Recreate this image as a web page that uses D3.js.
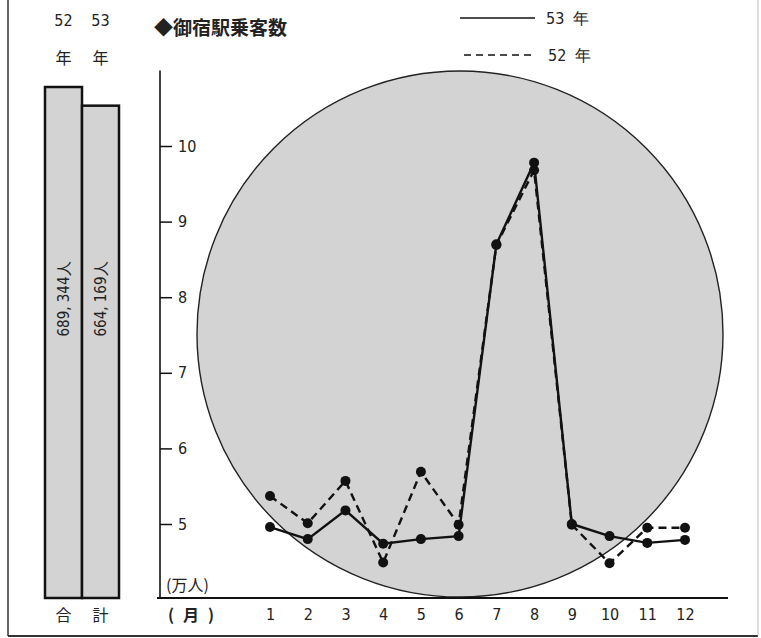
<!DOCTYPE html>
<html>
<head>
<meta charset="utf-8">
<script src="https://cdn.jsdelivr.net/npm/d3@7"></script>
<style>
  html, body { margin: 0; padding: 0; background: #fff; }
  svg { display: block; }
  text { font-family: "DejaVu Sans Condensed", "DejaVu Sans", sans-serif; fill: #222; }
  .jp { font-family: "Noto Sans CJK JP", sans-serif; }
</style>
</head>
<body>
<svg id="chart" width="761" height="638"></svg>
<script>
// ---- data ----
const months = [1, 2, 3, 4, 5, 6, 7, 8, 9, 10, 11, 12];
const values53 = [4.96, 4.80, 5.18, 4.74, 4.80, 4.84, 8.70, 9.78, 5.00, 4.84, 4.75, 4.79]; // 万人
const values52 = [5.37, 5.01, 5.57, 4.49, 5.69, 4.99, 8.69, 9.68, 4.99, 4.48, 4.95, 4.95]; // 万人
const yTicks = [5, 6, 7, 8, 9, 10];
const totalYears = ["52", "53"];
const totals = [689344, 664169];
const totalLabels = ["689, 344人", "664, 169人"];
const seriesNames = ["53 年", "52 年"];
const title = "◆御宿駅乗客数";

// ---- layout ----
const svg = d3.select("#chart");
const baseY = 598;

// frame
svg.append("line").attr("x1", 8).attr("y1", 0).attr("x2", 8).attr("y2", 636).attr("stroke", "#333").attr("stroke-width", 1.5);
svg.append("line").attr("x1", 8).attr("y1", 636).attr("x2", 758).attr("y2", 636).attr("stroke", "#333").attr("stroke-width", 2);
svg.append("line").attr("x1", 758).attr("y1", 0).attr("x2", 758).attr("y2", 636).attr("stroke", "#bbb").attr("stroke-width", 1);

// scales
const x = d3.scalePoint().domain(months).range([270, 685]);
const y = d3.scaleLinear().domain([5, 10]).range([524, 146]);

// big background circle
svg.append("circle")
  .attr("cx", 460).attr("cy", 334).attr("r", 263)
  .attr("fill", "#d3d3d3").attr("stroke", "#222").attr("stroke-width", 1.4);

// ---- totals bar chart ----
const xb = d3.scaleBand().domain(totalYears).range([45, 119]).padding(0);
const yb = d3.scaleLinear().domain([0, totals[0]]).range([baseY, 87]);

svg.selectAll("rect.total").data(totals).join("rect")
  .attr("class", "total")
  .attr("x", (d, i) => xb(totalYears[i]))
  .attr("y", d => yb(d))
  .attr("width", xb.bandwidth())
  .attr("height", d => baseY - yb(d))
  .attr("fill", "#d3d3d3").attr("stroke", "#111").attr("stroke-width", 2.5);

svg.selectAll("text.tlabel").data(totalLabels).join("text")
  .attr("class", "tlabel")
  .attr("transform", (d, i) => `translate(${xb(totalYears[i]) + xb.bandwidth() / 2 + 5},299) rotate(-90)`)
  .attr("text-anchor", "middle")
  .attr("font-size", 15)
  .text(d => d);

svg.selectAll("text.yr").data(totalYears).join("text")
  .attr("class", "yr")
  .attr("x", d => xb(d) + xb.bandwidth() / 2)
  .attr("y", 26).attr("text-anchor", "middle").attr("font-size", 16)
  .text(d => d);
svg.selectAll("text.nen").data(totalYears).join("text")
  .attr("class", "nen jp")
  .attr("x", d => xb(d) + xb.bandwidth() / 2)
  .attr("y", 64).attr("text-anchor", "middle").attr("font-size", 16)
  .text("年");
svg.selectAll("text.goukei").data(["合", "計"]).join("text")
  .attr("class", "goukei jp")
  .attr("x", (d, i) => xb(totalYears[i]) + xb.bandwidth() / 2)
  .attr("y", 621).attr("text-anchor", "middle").attr("font-size", 16)
  .text(d => d);

// ---- title ----
svg.append("text").attr("class", "jp")
  .attr("x", 154).attr("y", 35)
  .attr("font-size", 19).attr("font-weight", "bold").attr("fill", "#111")
  .text(title);

// ---- legend ----
svg.append("line").attr("x1", 460).attr("x2", 535).attr("y1", 18).attr("y2", 18)
  .attr("stroke", "#111").attr("stroke-width", 1.5);
svg.append("text").attr("x", 546).attr("y", 24).attr("font-size", 16).attr("word-spacing", 4).text(seriesNames[0]);
svg.append("line").attr("x1", 464).attr("x2", 535).attr("y1", 55).attr("y2", 55)
  .attr("stroke", "#111").attr("stroke-width", 1.6).attr("stroke-dasharray", "7,5");
svg.append("text").attr("x", 548).attr("y", 61).attr("font-size", 16).attr("word-spacing", 4).text(seriesNames[1]);

// ---- axes ----
const axisX0 = 160;
svg.append("line").attr("x1", axisX0).attr("x2", axisX0).attr("y1", y(11)).attr("y2", baseY)
  .attr("stroke", "#111").attr("stroke-width", 1.6);
const yAxis = svg.append("g").attr("transform", `translate(${axisX0},0)`)
  .call(d3.axisRight(y).tickValues(yTicks).tickSize(12).tickPadding(6).tickFormat(d3.format("d")));
yAxis.select(".domain").remove();
yAxis.selectAll(".tick line").attr("stroke", "#111").attr("stroke-width", 1.5);
yAxis.selectAll(".tick text").attr("font-size", 16).attr("fill", "#222")
  .style("font-family", '"DejaVu Sans Condensed", sans-serif');

svg.append("line").attr("x1", 157).attr("x2", 728).attr("y1", baseY).attr("y2", baseY)
  .attr("stroke", "#111").attr("stroke-width", 2);
const xAxis = svg.append("g").attr("transform", `translate(0,${baseY})`)
  .call(d3.axisBottom(x).tickSize(0).tickPadding(11));
xAxis.select(".domain").remove();
xAxis.selectAll(".tick text").attr("font-size", 16).attr("fill", "#222")
  .style("font-family", '"DejaVu Sans Condensed", sans-serif');

svg.append("text").attr("class", "jp").attr("x", 166).attr("y", 591).attr("font-size", 16).text("(万人)");
svg.append("text").attr("class", "jp").attr("x", 168).attr("y", 621).attr("font-size", 16)
  .attr("font-weight", "bold").attr("letter-spacing", 9).text("(月)");

// ---- lines ----
const line = d3.line().x((d, i) => x(months[i])).y(d => y(d));

svg.append("path").datum(values52).attr("d", line)
  .attr("fill", "none").attr("stroke", "#111").attr("stroke-width", 2.4).attr("stroke-dasharray", "8,5");
svg.append("path").datum(values53).attr("d", line)
  .attr("fill", "none").attr("stroke", "#111").attr("stroke-width", 2.4);

[values52, values53].forEach((vals, k) => {
  svg.append("g").selectAll("circle").data(vals).join("circle")
    .attr("cx", (d, i) => x(months[i]))
    .attr("cy", d => y(d))
    .attr("r", 5)
    .attr("fill", "#111");
});
</script>
</body>
</html>
